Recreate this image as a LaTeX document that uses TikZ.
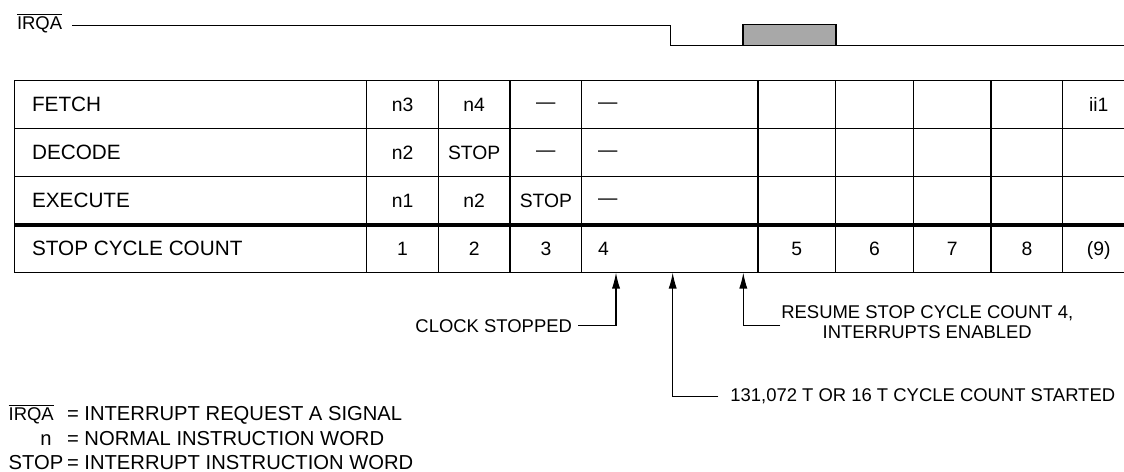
\documentclass[tikz,border=0pt]{standalone}
\usepackage{fontspec}
\setmainfont{Liberation Sans}
\usetikzlibrary{arrows.meta, positioning}

\newcommand{\idle}{\raisebox{1.6pt}{—}}
\newcommand{\irqa}{$\overline{\mbox{IRQA}}$}

\tikzset{
  gridline/.style={line width=0.6pt, line cap=rect},
  busline/.style={line width=2.6pt},
  pointer/.style={-{Latex[length=9pt, width=4.6pt]}, line width=0.6pt},
  rowlabel/.style={anchor=base west, inner sep=0pt, font=\fontsize{11.8}{14}\selectfont},
  cell/.style={anchor=base, inner sep=0pt, font=\fontsize{11}{13}\selectfont},
  note/.style={inner xsep=0.12cm, inner ysep=0pt, font=\fontsize{10.5}{11.8}\selectfont},
  legend/.style={anchor=base west, inner sep=0pt, font=\fontsize{11.5}{14}\selectfont},
}

\begin{document}
\begin{tikzpicture}[x=0.02cm, y=-0.02cm, >=Latex]
  \useasboundingbox (0,0) rectangle (1124,472);

  % IRQA waveform with the request pulse
  \node[note, anchor=base west, inner xsep=0pt] (irqa) at (16.7, 30) {\irqa};
  \draw[gridline] (72.7, 25.7) -- (670.7, 25.7) -- (670.7, 45.7) -- (1124, 45.7);
  \draw[gridline, fill=black!34] (743, 24.3) rectangle (836, 45.7);

  % Pipeline table grid
  \foreach \y in {80.7, 128.7, 176.7, 272.7}
    \draw[gridline] (14.7, \y) -- (1124, \y);
  \draw[busline] (14.7, 225) -- (1124, 225);
  \foreach \x in {14.7, 366.7, 438.3, 510, 581.7, 758, 835.5, 913.3, 991, 1062.7}
    \draw[gridline] (\x, 80.7) -- (\x, 272.7);

  % Row names
  \foreach \lbl [count=\i] in {FETCH, DECODE, EXECUTE, STOP CYCLE COUNT}
    \node[rowlabel] (row\i) at (31.7, 63.7+48*\i) {\lbl};

  % Pipeline stages
  \foreach \a/\b/\c [count=\i] in {n3/n4/\idle, n2/STOP/\idle, n1/n2/STOP} {
    \node[cell] (st\i a) at (402.5, 63.7+48*\i) {\a};
    \node[cell] (st\i b) at (474.2, 63.7+48*\i) {\b};
    \node[cell] (st\i c) at (545.9, 63.7+48*\i) {\c};
    \node[cell, anchor=base west] (st\i d) at (597.7, 63.7+48*\i) {\idle};
  }
  \node[cell] (ii) at (1098.7, 111.7) {ii1};

  % Stop cycle count
  \foreach \x/\t [count=\k] in {402.5/1, 474.2/2, 545.9/3, 796.8/5, 874.4/6, 952.2/7, 1026.9/8, 1098.7/{(9)}}
    \node[cell] (cnt\k) at (\x, 255.5) {\t};
  \node[cell, anchor=base west] (cntfour) at (597.7, 255.5) {4};

  % Events below count 4
  \coordinate (tipstop) at (616, 272.7);
  \coordinate (tipcount) at (672.7, 272.7);
  \coordinate (tipresume) at (743.3, 272.7);

  \node[note, anchor=base east] (clk) at (578.3, 332.3) {CLOCK STOPPED};
  \node[note, anchor=west, inner xsep=0.02cm, align=center] (rsm) at (780, 322.2)
    {RESUME STOP CYCLE COUNT 4,\\INTERRUPTS ENABLED};
  \node[note, anchor=west, inner xsep=0.234cm] (cyc) at (718.3, 396.7)
    {131,072 T OR 16 T CYCLE COUNT STARTED};

  \draw[pointer] (clk.east) -| (tipstop);
  \draw[pointer] (cyc.west) -| (tipcount);
  \draw[pointer] ([yshift=-0.07cm]rsm.west) -| (tipresume);

  % Legend
  \node[legend, font=\fontsize{10.5}{12}\selectfont] (keyirqa) at (8.3, 420.5) {\irqa};
  \node[legend] (keyn) at (40, 445.2) {n};
  \node[legend] (keystop) at (8.3, 469.2) {STOP};
  \node[legend] (defirqa) at (66.7, 420.5) {= INTERRUPT REQUEST A SIGNAL};
  \node[legend] (defn) at (66.7, 445.2) {= NORMAL INSTRUCTION WORD};
  \node[legend] (defstop) at (66.7, 469.2) {= INTERRUPT INSTRUCTION WORD};
\end{tikzpicture}
\end{document}
